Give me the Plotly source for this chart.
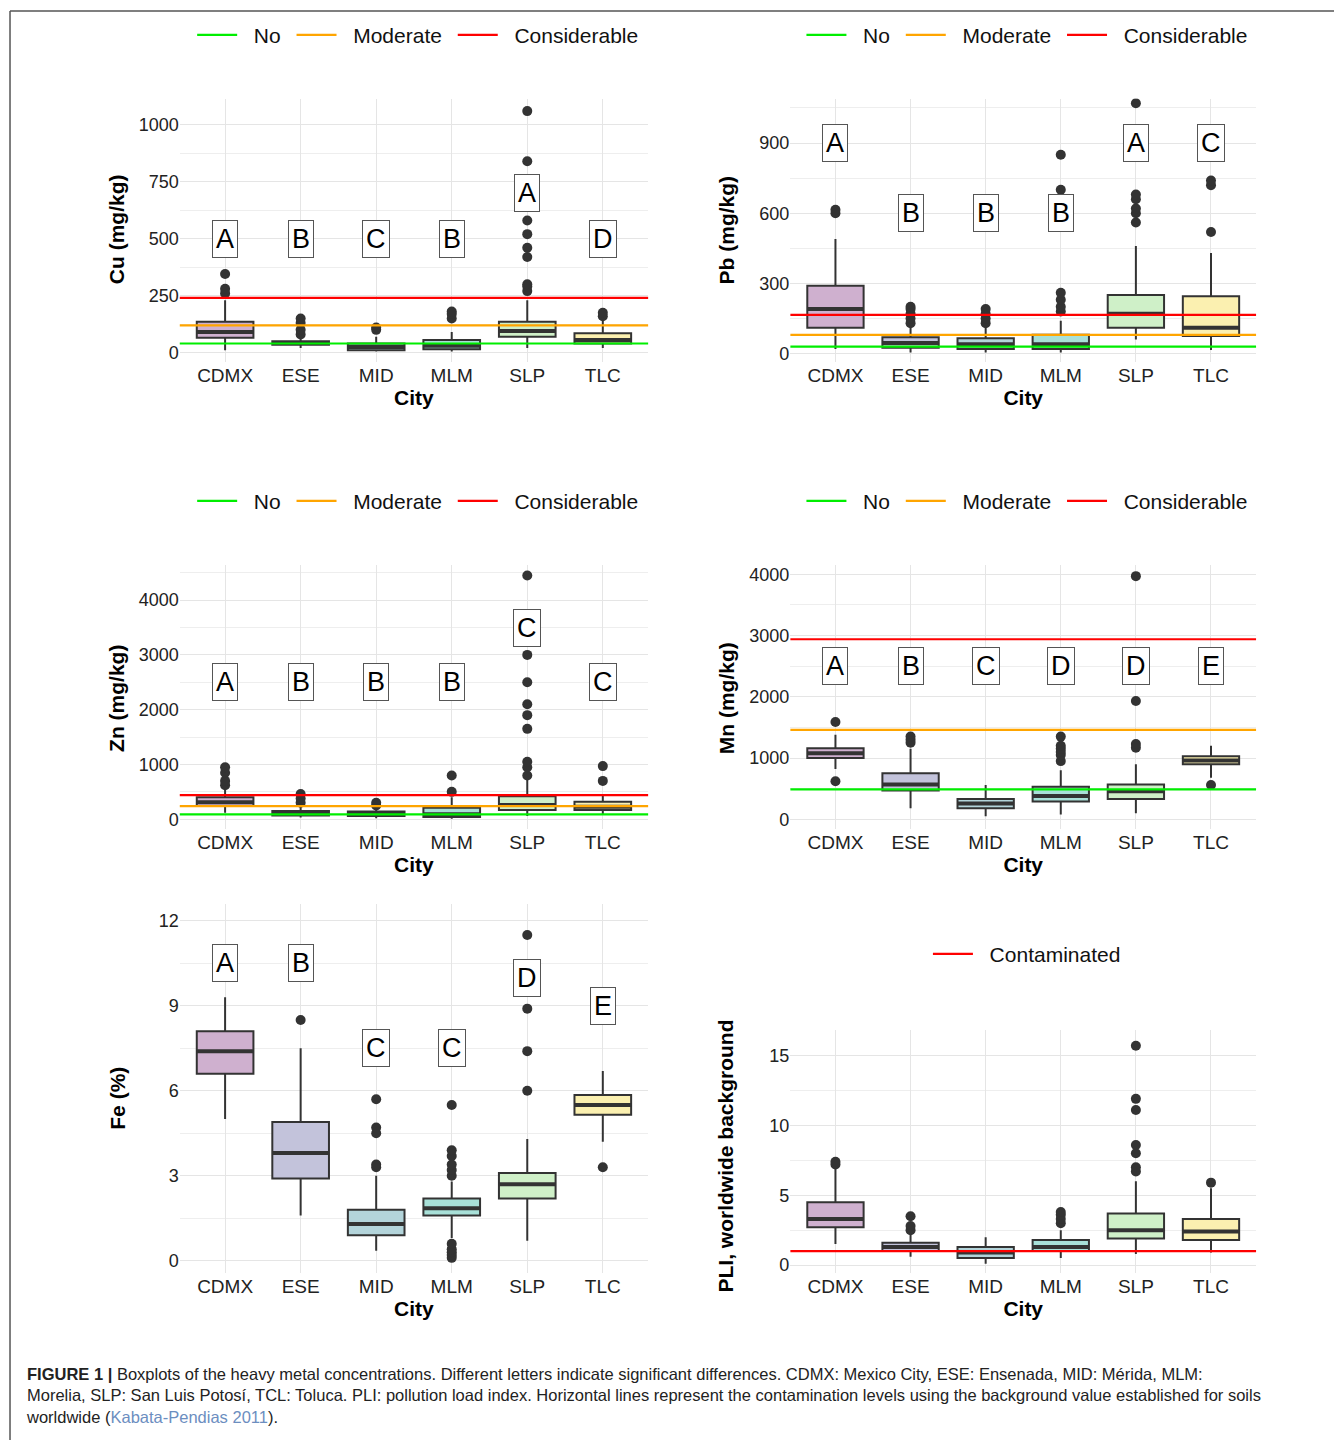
import plotly.graph_objects as go

cities = ["CDMX", "ESE", "MID", "MLM", "SLP", "TLC"]
fills = ["#CFB0CF", "#C3C3DB", "#B3D4DA", "#A8E0D8", "#CFF0C8", "#FBF0B0"]

# Cu
cu_q1 = [65, 35, 10, 15, 70, 40]
cu_med = [90, 42, 25, 30, 95, 55]
cu_q3 = [135, 50, 40, 55, 135, 85]
cu_lo = [10, 20, 5, 5, 20, 20]
cu_hi = [230, 60, 70, 90, 230, 140]
cu_out = [[260, 280, 345], [80, 100, 130, 150], [100, 110], [150, 170, 180],
          [270, 290, 300, 420, 460, 520, 580, 840, 1060], [160, 175]]
cu_letters = ["A", "B", "C", "B", "A", "D"]
cu_letter_y = [500, 500, 500, 500, 700, 500]
cu_levels = [40, 120, 240]

# Pb
pb_q1 = [110, 25, 20, 20, 110, 75]
pb_med = [190, 45, 40, 40, 170, 110]
pb_q3 = [290, 70, 65, 80, 250, 245]
pb_lo = [20, 5, 5, 5, 60, 15]
pb_hi = [490, 110, 110, 140, 460, 430]
pb_out = [[600, 615], [130, 150, 170, 190, 200], [130, 150, 170, 190],
          [180, 200, 230, 260, 700, 850], [560, 600, 620, 660, 680, 1070], [520, 720, 740]]
pb_letters = ["A", "B", "B", "B", "A", "C"]
pb_letter_y = [900, 600, 600, 600, 900, 900]
pb_levels = [30, 80, 165]

# Zn
zn_q1 = [240, 70, 60, 40, 170, 170]
zn_med = [310, 110, 100, 90, 260, 230]
zn_q3 = [400, 150, 140, 210, 420, 320]
zn_lo = [120, 30, 20, 10, 60, 80]
zn_hi = [550, 250, 200, 400, 750, 450]
zn_out = [[620, 700, 850, 950], [300, 380, 460], [250, 300], [500, 800],
          [800, 950, 1050, 1650, 1900, 2100, 2500, 3000, 4450], [700, 970]]
zn_letters = ["A", "B", "B", "B", "C", "C"]
zn_letter_y = [2500, 2500, 2500, 2500, 3500, 2500]
zn_levels = [90, 240, 440]

# Mn
mn_q1 = [1000, 470, 180, 290, 330, 900]
mn_med = [1080, 570, 260, 380, 460, 960]
mn_q3 = [1160, 750, 330, 530, 570, 1030]
mn_lo = [820, 180, 50, 80, 100, 680]
mn_hi = [1380, 1150, 560, 800, 900, 1200]
mn_out = [[620, 1590], [1250, 1300, 1350], [], [950, 1050, 1100, 1150, 1200, 1350],
          [1170, 1230, 1930, 3970], [560]]
mn_letters = ["A", "B", "C", "D", "D", "E"]
mn_letter_y = [2500] * 6
mn_levels = [490, 1460, 2940]

# Fe
fe_q1 = [6.6, 2.9, 0.9, 1.6, 2.2, 5.15]
fe_med = [7.4, 3.8, 1.3, 1.85, 2.7, 5.5]
fe_q3 = [8.1, 4.9, 1.8, 2.2, 3.1, 5.85]
fe_lo = [5.0, 1.6, 0.35, 0.8, 0.7, 4.2]
fe_hi = [9.3, 7.5, 3.0, 2.8, 4.3, 6.7]
fe_out = [[], [8.5], [3.3, 3.4, 4.5, 4.7, 5.7],
          [0.1, 0.2, 0.3, 0.4, 0.6, 3.0, 3.2, 3.4, 3.7, 3.9, 5.5], [6.0, 7.4, 8.9, 11.5], [3.3]]
fe_letters = ["A", "B", "C", "C", "D", "E"]
fe_letter_y = [10.5, 10.5, 7.5, 7.5, 10.0, 9.0]

# PLI
pli_q1 = [2.7, 1.0, 0.5, 1.0, 1.9, 1.8]
pli_med = [3.3, 1.3, 0.9, 1.3, 2.5, 2.4]
pli_q3 = [4.5, 1.6, 1.3, 1.8, 3.7, 3.3]
pli_lo = [1.5, 0.6, 0.1, 0.5, 0.8, 0.9]
pli_hi = [7.0, 2.2, 2.0, 2.5, 6.0, 5.5]
pli_out = [[7.2, 7.4], [2.5, 2.8, 3.5], [], [3.0, 3.3, 3.6, 3.8],
           [6.7, 7.0, 8.0, 8.6, 11.1, 11.9, 15.7], [5.9]]
pli_levels = [1.0]

level_names = ["No", "Moderate", "Considerable"]
level_colors = ["#00EE00", "#FFA500", "#FF0000"]

FONT = "Liberation Sans"
DX = -0.006   # compensates page offset
DY = 0.005

L = [0.134 + DX, 0.483 + DX]
R = [0.589 + DX, 0.936 + DX]

panels = [
    dict(title="Cu (mg/kg)", q1=cu_q1, med=cu_med, q3=cu_q3, lo=cu_lo, hi=cu_hi, out=cu_out,
         letters=cu_letters, ly=cu_letter_y, levels=cu_levels, names=level_names, colors=level_colors,
         yr=[-40, 1115], dt=250, xd=L, yd=[0.749, 0.932], leg_y=0.976, tx=0.087, ty=0.841),
    dict(title="Pb (mg/kg)", q1=pb_q1, med=pb_med, q3=pb_q3, lo=pb_lo, hi=pb_hi, out=pb_out,
         letters=pb_letters, ly=pb_letter_y, levels=pb_levels, names=level_names, colors=level_colors,
         yr=[-35, 1090], dt=300, xd=R, yd=[0.749, 0.932], leg_y=0.976, tx=0.541, ty=0.841),
    dict(title="Zn (mg/kg)", q1=zn_q1, med=zn_med, q3=zn_q3, lo=zn_lo, hi=zn_hi, out=zn_out,
         letters=zn_letters, ly=zn_letter_y, levels=zn_levels, names=level_names, colors=level_colors,
         yr=[-180, 4650], dt=1000, xd=L, yd=[0.424, 0.608], leg_y=0.652, tx=0.087, ty=0.515),
    dict(title="Mn (mg/kg)", q1=mn_q1, med=mn_med, q3=mn_q3, lo=mn_lo, hi=mn_hi, out=mn_out,
         letters=mn_letters, ly=mn_letter_y, levels=mn_levels, names=level_names, colors=level_colors,
         yr=[-160, 4160], dt=1000, xd=R, yd=[0.424, 0.608], leg_y=0.652, tx=0.541, ty=0.515),
    dict(title="Fe (%)", q1=fe_q1, med=fe_med, q3=fe_q3, lo=fe_lo, hi=fe_hi, out=fe_out,
         letters=fe_letters, ly=fe_letter_y, levels=[], names=[], colors=[],
         yr=[-0.45, 12.6], dt=3, xd=L, yd=[0.115, 0.372], leg_y=None, tx=0.087, ty=0.237),
    dict(title="PLI, worldwide background", q1=pli_q1, med=pli_med, q3=pli_q3, lo=pli_lo, hi=pli_hi,
         out=pli_out, letters=[], ly=[], levels=pli_levels, names=["Contaminated"], colors=["#FF0000"],
         yr=[-0.6, 16.8], dt=5, xd=R, yd=[0.115, 0.284], leg_y=0.337, tx=0.541, ty=0.197),
]

fig = go.Figure()
xs = list(range(len(cities)))
annotations = []
shapes = []

for p_i, p in enumerate(panels):
    n = p_i + 1
    xa = "x" if n == 1 else f"x{n}"
    ya = "y" if n == 1 else f"y{n}"
    leg = "legend" if n == 1 else f"legend{n}"
    yd = [p["yd"][0] + DY, p["yd"][1] + DY]

    # threshold lines
    for lv, nm, col in zip(p["levels"], p["names"], p["colors"]):
        shapes.append(dict(type="line", xref=f"{xa} domain", yref=ya, x0=0, x1=1, y0=lv, y1=lv,
                           line=dict(color=col, width=2.2), layer="above"))
        fig.add_trace(go.Scatter(x=[None], y=[None], mode="lines", name="  " + nm + " ",
                                 line=dict(color=col, width=2.2), xaxis=xa, yaxis=ya,
                                 legend=leg, showlegend=True))

    for i, c in enumerate(cities):
        fig.add_trace(go.Box(x=[i], q1=[p["q1"][i]], median=[p["med"][i]], q3=[p["q3"][i]],
                             lowerfence=[p["lo"][i]], upperfence=[p["hi"][i]],
                             fillcolor=fills[i], line=dict(color="#333333", width=2),
                             width=0.75, whiskerwidth=0, boxpoints=False,
                             xaxis=xa, yaxis=ya, showlegend=False, hoverinfo="skip"))
        # thick median
        fig.add_trace(go.Scatter(x=[i - 0.375, i + 0.375], y=[p["med"][i]] * 2, mode="lines",
                                 line=dict(color="#333333", width=4), xaxis=xa, yaxis=ya,
                                 showlegend=False, hoverinfo="skip"))
        if p["out"][i]:
            fig.add_trace(go.Scatter(x=[i] * len(p["out"][i]), y=p["out"][i], mode="markers",
                                     marker=dict(color="#333333", size=10), xaxis=xa, yaxis=ya,
                                     showlegend=False, hoverinfo="skip"))

    for i, (lt, y) in enumerate(zip(p["letters"], p["ly"])):
        annotations.append(dict(x=i, y=y, xref=xa, yref=ya, text=lt, showarrow=False,
                                font=dict(size=27, color="black", family=FONT),
                                bgcolor="white", bordercolor="#555555", borderwidth=1, borderpad=3))

    # y axis title at fixed position
    annotations.append(dict(x=p["tx"] + DX, y=p["ty"] + DY, xref="paper", yref="paper",
                            xanchor="center", yanchor="middle",
                            text=f"<b>{p['title']}</b>", textangle=-90, showarrow=False,
                            font=dict(size=21, color="black", family=FONT)))

    ax = dict(domain=p["xd"], anchor=ya, range=[-0.6, 5.6], tickvals=xs, ticktext=cities,
              showgrid=True, gridcolor="#E5E5E5", zeroline=False, showline=False, ticks="",
              tickfont=dict(size=19, color="#222222", family=FONT),
              title=dict(text="<b>City</b>", font=dict(size=21, color="black", family=FONT), standoff=4))
    ay = dict(domain=yd, anchor=xa, range=p["yr"], dtick=p["dt"], tick0=0,
              showgrid=True, gridcolor="#E5E5E5", zeroline=False, showline=False, ticks="",
              minor=dict(dtick=p["dt"] / 2, showgrid=True, gridcolor="#EEEEEE"),
              tickfont=dict(size=18, color="#222222", family=FONT))
    fig.update_layout({("xaxis" if n == 1 else f"xaxis{n}"): ax,
                       ("yaxis" if n == 1 else f"yaxis{n}"): ay})
    if p["leg_y"] is not None:
        fig.update_layout({leg: dict(orientation="h", x=(p["xd"][0] + p["xd"][1]) / 2 + 0.005,
                                     xanchor="center", y=p["leg_y"] + DY, yanchor="middle",
                                     font=dict(size=21, color="#111111", family=FONT),
                                     bgcolor="rgba(0,0,0,0)", itemwidth=40)})

# frame
shapes.append(dict(type="line", xref="paper", yref="paper", x0=0.0015, x1=1.0, y0=0.998, y1=0.998,
                   line=dict(color="#555555", width=1.5)))
shapes.append(dict(type="line", xref="paper", yref="paper", x0=0.0015, x1=0.0015, y0=0.0, y1=0.998,
                   line=dict(color="#555555", width=1.5)))

caption = ("<b>FIGURE 1 |</b> Boxplots of the heavy metal concentrations. Different letters indicate significant "
           "differences. CDMX: Mexico City, ESE: Ensenada, MID: Mérida, MLM:<br>Morelia, SLP: San Luis Potosí, "
           "TCL: Toluca. PLI: pollution load index. Horizontal lines represent the contamination levels using the "
           "background value established for soils<br>worldwide (<span style='color:#6C8EBF'>Kabata-Pendias 2011</span>).")
annotations.append(dict(x=0.012, y=0.058, xref="paper", yref="paper", xanchor="left", yanchor="top",
                        text=caption, showarrow=False, align="left",
                        font=dict(size=16.5, color="#222222", family=FONT)))

fig.update_layout(width=1342, height=1440, margin=dict(l=0, r=0, t=0, b=0),
                  paper_bgcolor="white", plot_bgcolor="white", showlegend=True,
                  annotations=annotations, shapes=shapes)

fig.write_html("out.html")
